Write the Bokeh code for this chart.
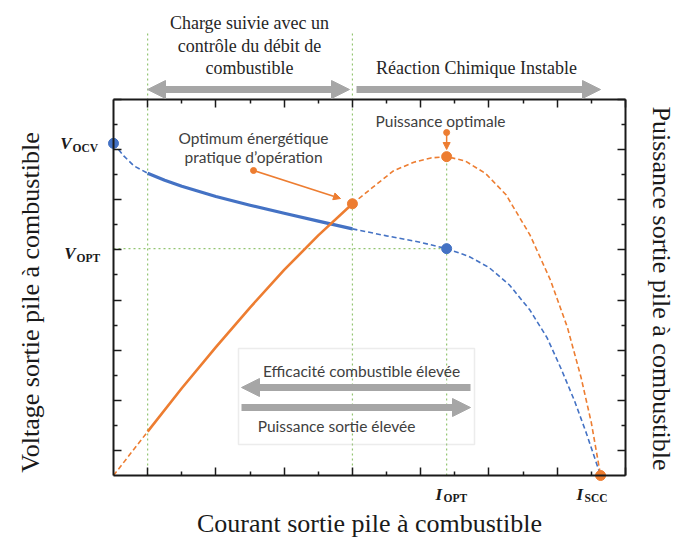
import numpy as np
from bokeh.plotting import figure
from bokeh.models import (Range1d, LinearAxis, FixedTicker, Label, Arrow,
                          NormalHead, BoxAnnotation)
from bokeh.embed import file_html
from bokeh.resources import INLINE

# ---------------- data (arbitrary units) ----------------
V_OCV = 13.25      # open-circuit voltage
I_LOW = 1.0        # start of the load-following zone
I_PRAC = 7.0       # practical energetic optimum
I_OPT = 9.76       # current at maximum power
V_OPT = 9.05       # voltage at maximum power
P_OPT = 12.72      # maximum power
I_SCC = 14.27      # short-circuit current

# voltage curve (blue)
i_v_start = [0.0, 0.3, 0.6, 1.0]
v_start = [13.25, 12.75, 12.35, 12.06]
i_v_mid = [1.0, 1.5, 2.0, 3.0, 4.0, 5.0, 6.0, 7.0]
v_mid = [12.06, 11.78, 11.54, 11.13, 10.78, 10.46, 10.15, 9.84]
i_v_end = [7.0, 8.0, 9.0, 9.76, 10.4, 11.0, 11.6, 12.2, 12.7, 13.1, 13.5, 13.85, 14.27]
v_end = [9.84, 9.56, 9.3, 9.05, 8.75, 8.3, 7.6, 6.6, 5.5, 4.3, 3.0, 1.7, 0.0]

# power curve (orange)
i_p_start = [0.0, 1.0]
p_start = [0.0, 1.75]
i_p_mid = [1.0, 2.0, 3.0, 4.0, 5.0, 6.0, 7.0]
p_mid = [1.75, 3.48, 5.12, 6.7, 8.2, 9.58, 10.84]
i_p_end = [7.0, 7.6, 8.2, 8.8, 9.3, 9.76, 10.3, 10.9, 11.5, 12.2, 12.8, 13.3, 13.7, 14.0, 14.27]
p_end = [10.84, 11.5, 12.15, 12.5, 12.67, 12.72, 12.55, 12.05, 11.2, 9.6, 7.8, 5.9, 3.9, 2.1, 0.0]
P_PRAC = p_mid[-1]

major_ticks = [1, 3, 5, 7, 9, 11, 13, 15]
minor_ticks = [2, 4, 6, 8, 10, 12, 14]

x_title = "Courant sortie pile à combustible"
y_title = "Voltage sortie pile à combustible"
y2_title = "Puissance sortie pile à combustible"

# ---------------- layout geometry ----------------
W, H = 675, 538
FL, FR, FT, FB = 113, 625, 99, 475          # px of the axis box on the page
XS = (FR - FL) / 15.0
YS = (FB - FT) / 15.0


def dx(px):
    return (px - FL) / XS


def dy(py):
    return (FB - py) / YS


BLUE = "#4472C4"
ORANGE = "#ED7D31"
GREEN = "#93C572"
GRAY = "#A6A6A6"
SERIF = "Liberation Serif"
SANS = "Lato"

p = figure(width=W, height=H, output_backend="svg", toolbar_location=None,
           x_range=Range1d(dx(0), dx(W)), y_range=Range1d(dy(H), dy(0)),
           x_axis_location=None, y_axis_location=None, min_border=0)
p.outline_line_color = None
p.grid.visible = False
p.background_fill_color = "white"
p.border_fill_color = "white"


def make_axis(loc):
    ax = LinearAxis(fixed_location=loc, bounds=(0, 15),
                    ticker=FixedTicker(ticks=major_ticks, minor_ticks=minor_ticks))
    ax.axis_line_width = 2
    ax.axis_line_color = "#1a1a1a"
    ax.major_tick_line_color = "#1a1a1a"
    ax.minor_tick_line_color = "#1a1a1a"
    ax.major_tick_line_width = 1.5
    ax.minor_tick_line_width = 1.5
    ax.major_tick_in = 8
    ax.major_tick_out = 0
    ax.minor_tick_in = 4
    ax.minor_tick_out = 0
    ax.major_label_overrides = {t: "" for t in major_ticks}
    ax.major_label_standoff = 0
    return ax


ax_b = make_axis(0)
ax_b.axis_label = x_title
ax_b.axis_label_text_font = SERIF
ax_b.axis_label_text_font_style = "normal"
ax_b.axis_label_text_font_size = "26px"
ax_b.axis_label_text_color = "#1a1a1a"
ax_b.axis_label_standoff = 33
p.add_layout(ax_b, "below")
p.add_layout(make_axis(15), "above")
p.add_layout(make_axis(0), "left")
p.add_layout(make_axis(15), "right")

# ---------------- guide lines ----------------
guide = dict(line_color=GREEN, line_width=1.2, line_dash="2 3")
p.segment(x0=[I_LOW, I_PRAC], y0=[0, 0], x1=[I_LOW, I_PRAC], y1=[dy(33), dy(33)], **guide)
p.segment(x0=[I_OPT], y0=[0], x1=[I_OPT], y1=[P_OPT], **guide)
p.segment(x0=[0], y0=[V_OPT], x1=[I_OPT], y1=[V_OPT], **guide)

# ---------------- inner box with arrows ----------------
p.add_layout(BoxAnnotation(left=dx(238), right=dx(474), bottom=dy(444), top=dy(348),
                           fill_color=None, fill_alpha=0, line_color="#BFBFBF", line_width=1.5))


def gray_head():
    return NormalHead(size=18, fill_color=GRAY, line_color=GRAY)


p.add_layout(Arrow(x_start=dx(470), y_start=dy(387), x_end=dx(241), y_end=dy(387),
                   end=gray_head(), line_color=GRAY, line_width=7))
p.add_layout(Arrow(x_start=dx(241), y_start=dy(407), x_end=dx(470), y_end=dy(407),
                   end=gray_head(), line_color=GRAY, line_width=7))
# top arrows
p.add_layout(Arrow(x_start=dx(147), y_start=dy(89), x_end=dx(349), y_end=dy(89),
                   start=gray_head(), end=gray_head(), line_color=GRAY, line_width=7))
p.add_layout(Arrow(x_start=dx(356), y_start=dy(89), x_end=dx(600), y_end=dy(89),
                   end=gray_head(), line_color=GRAY, line_width=7))

# ---------------- curves ----------------
dash = "5 3"
p.line(i_v_start, v_start, line_color=BLUE, line_width=1.6, line_dash=dash)
p.line(i_v_mid, v_mid, line_color=BLUE, line_width=3.2, line_join="round")
p.line(i_v_end, v_end, line_color=BLUE, line_width=1.6, line_dash=dash)
p.line(i_p_start, p_start, line_color=ORANGE, line_width=1.6, line_dash=dash)
p.line(i_p_mid, p_mid, line_color=ORANGE, line_width=2.6, line_join="round")
p.line(i_p_end, p_end, line_color=ORANGE, line_width=1.6, line_dash=dash)

p.scatter([0, I_OPT], [V_OCV, V_OPT], size=10, color=BLUE)
p.scatter([I_PRAC, I_OPT, I_SCC], [P_PRAC, P_OPT, 0], size=10, color=ORANGE)

# orange pointers
p.scatter([dx(253), I_OPT], [dy(170), dy(132)], size=6, color=ORANGE)
p.add_layout(Arrow(x_start=dx(253), y_start=dy(170), x_end=dx(340), y_end=dy(198),
                   end=NormalHead(size=7, fill_color=ORANGE, line_color=ORANGE),
                   line_color=ORANGE, line_width=1.5))
p.add_layout(Arrow(x_start=I_OPT, y_start=dy(132), x_end=I_OPT, y_end=dy(149),
                   end=NormalHead(size=7, fill_color=ORANGE, line_color=ORANGE),
                   line_color=ORANGE, line_width=1.5))


# ---------------- texts ----------------
def lab(text, px, py, font=SANS, size="15.5px", color="#404040", align="center",
        baseline="middle", style="normal", angle=0.0):
    p.add_layout(Label(x=dx(px), y=dy(py), text=text, text_font=font, text_font_size=size,
                       text_color=color, text_align=align, text_baseline=baseline,
                       text_font_style=style, angle=angle))


lab("Charge suivie avec un", 249, 22, font=SERIF, size="18px", color="#262626")
lab("contrôle du débit de", 249, 45, font=SERIF, size="18px", color="#262626")
lab("combustible", 249, 67, font=SERIF, size="18px", color="#262626")
lab("Réaction Chimique Instable", 476, 67, font=SERIF, size="18px", color="#262626")

lab("Optimum énergétique", 253, 137)
lab("pratique d’opération", 253, 156)
lab("Puissance optimale", 440, 120)
lab("Efficacité combustible élevée", 361, 370)
lab("Puissance sortie élevée", 336, 425)

lab(y_title, 30, 302, font=SERIF, size="26px", color="#1a1a1a", angle=np.pi / 2)
lab(y2_title, 661, 288, font=SERIF, size="26px", color="#1a1a1a", angle=-np.pi / 2)

mk = dict(font=SERIF, color="#1a1a1a", baseline="alphabetic")
lab("V", 71, 143, size="17px", align="right", style="bold italic", **mk)
lab("OCV", 72, 147, size="11.5px", align="left", style="bold", **mk)
lab("V", 75, 253, size="17px", align="right", style="bold italic", **mk)
lab("OPT", 76, 257, size="11.5px", align="left", style="bold", **mk)
lab("I", 435, 494, size="17px", align="left", style="bold italic", **mk)
lab("OPT", 443, 497, size="11.5px", align="left", style="bold", **mk)
lab("I", 576, 494, size="17px", align="left", style="bold italic", **mk)
lab("SCC", 584, 497, size="11.5px", align="left", style="bold", **mk)

open("out.html", "w").write(file_html(p, INLINE, "Pile à combustible"))
